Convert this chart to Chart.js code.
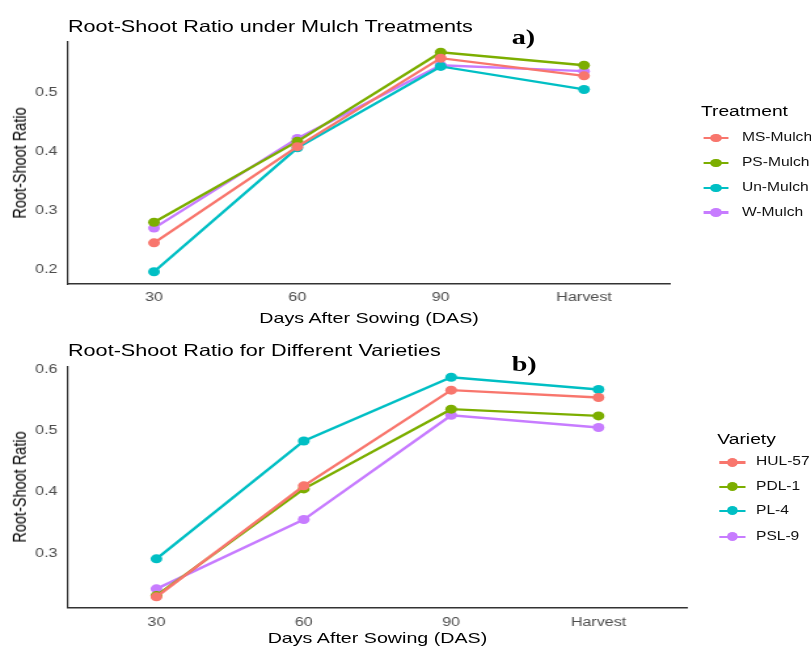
<!DOCTYPE html>
<html>
<head>
<meta charset="utf-8">
<script src="https://cdn.jsdelivr.net/npm/chart.js@4.4.0/dist/chart.umd.min.js"></script>
<style>
  html, body { margin: 0; padding: 0; background: #fff; }
  body { width: 811px; height: 648px; overflow: hidden; position: relative; font-family: "Liberation Sans", Arial, sans-serif; }
  #wrap { position: absolute; left: 0; top: 0; width: 619px; height: 648px; transform: scaleX(1.3102); transform-origin: 0 0; }
  #wrap canvas { position: absolute; left: 0; }
  .txt { position: absolute; line-height: 1; white-space: nowrap; }
  .title { font-size: 16.5px; color: #000; }
  .tag { font-family: "Liberation Serif", "Times New Roman", serif; font-weight: bold; font-size: 21.5px; color: #000; }
  .xtitle { font-size: 15px; color: #000; text-align: center; }
  .ytitle { font-size: 14.5px; color: #000; transform: translate(-50%, -50%) rotate(-90deg); }
  .ltitle { font-size: 14.7px; color: #000; }
  .lrow { position: absolute; height: 0; }
  .lrow .ln { position: absolute; height: 2.4px; top: -1.2px; }
  .lrow .dot { position: absolute; width: 8.6px; height: 8.6px; top: -4.3px; border-radius: 50%; }
  .lrow .lb { position: absolute; font-size: 11.9px; line-height: 1; top: -6px; color: #111; white-space: nowrap; }
</style>
</head>
<body>
<div id="wrap">
  <div class="txt title" style="left:51.9px; top:18px;">Root-Shoot Ratio under Mulch Treatments</div>
  <div class="txt tag" style="left:390.5px; top:27.4px;">a)</div>
  <canvas id="chartA" width="619" height="330" style="top:0;"></canvas>
  <div class="txt xtitle" style="left:51.9px; width:459.6px; top:309.6px;">Days After Sowing (DAS)</div>
  <div class="txt ytitle" style="left:15.3px; top:163px;">Root-Shoot Ratio</div>
  <div id="legendA"></div>

  <div class="txt title" style="left:51.9px; top:342px;">Root-Shoot Ratio for Different Varieties</div>
  <div class="txt tag" style="left:390.5px; top:353.9px;">b)</div>
  <canvas id="chartB" width="619" height="318" style="top:330px;"></canvas>
  <div class="txt xtitle" style="left:51.9px; width:472.4px; top:629.7px;">Days After Sowing (DAS)</div>
  <div class="txt ytitle" style="left:15.3px; top:487.2px;">Root-Shoot Ratio</div>
  <div id="legendB"></div>
</div>

<script>
// x categories
const days = ['30', '60', '90', 'Harvest'];

// panel a) mulch treatments
const treatments = ['MS-Mulch', 'PS-Mulch', 'Un-Mulch', 'W-Mulch'];
const msMulch = [0.246, 0.409, 0.559, 0.529];
const psMulch = [0.281, 0.418, 0.569, 0.547];
const unMulch = [0.197, 0.407, 0.545, 0.506];
const wMulch  = [0.271, 0.423, 0.547, 0.537];
const ticksA = [0.2, 0.3, 0.4, 0.5];

// panel b) varieties
const varieties = ['HUL-57', 'PDL-1', 'PL-4', 'PSL-9'];
const hul57 = [0.229, 0.410, 0.566, 0.554];
const pdl1  = [0.231, 0.405, 0.535, 0.524];
const pl4   = [0.291, 0.483, 0.587, 0.567];
const psl9  = [0.242, 0.355, 0.525, 0.505];
const ticksB = [0.3, 0.4, 0.5, 0.6];

const colours = ['#F8766D', '#7CAE00', '#00BFC4', '#C77CFF'];

function makeDatasets(names, series) {
  return names.map((name, k) => ({
    label: name,
    data: series[k].map((v, i) => ({ x: i + 1, y: v })),
    borderColor: colours[k],
    backgroundColor: colours[k],
    borderWidth: 2.4,
    pointRadius: 4.5,
    pointBorderWidth: 0,
    tension: 0
  }));
}

function makeChart(canvas, datasets, yTicks, yMin, yMax, pad, xHeight, xPad) {
  return new Chart(canvas, {
    type: 'line',
    data: { datasets: datasets },
    options: {
      responsive: false,
      animation: false,
      layout: { padding: pad },
      plugins: { legend: { display: false }, title: { display: false }, tooltip: { enabled: false } },
      scales: {
        x: {
          type: 'linear',
          min: 0.4,
          max: 4.6,
          afterBuildTicks: (s) => { s.ticks = days.map((d, i) => ({ value: i + 1 })); },
          afterFit: (s) => { s.height = xHeight; },
          grid: { display: false, drawTicks: false },
          border: { display: true, color: '#333', width: 1.6 },
          ticks: {
            padding: xPad,
            color: '#4d4d4d',
            font: { family: 'Liberation Sans', size: 12.3 },
            callback: (v) => days[Math.round(v) - 1],
            maxRotation: 0
          }
        },
        y: {
          min: yMin,
          max: yMax,
          afterBuildTicks: (s) => { s.ticks = yTicks.map(v => ({ value: v })); },
          afterFit: (s) => { s.width = 51.9; },
          grid: { display: false, drawTicks: false },
          border: { display: true, color: '#333', width: 1.2 },
          ticks: {
            padding: 8,
            color: '#4d4d4d',
            font: { family: 'Liberation Sans', size: 12.3 },
            callback: (v) => v.toFixed(1)
          }
        }
      }
    }
  });
}

function makeLegend(el, title, names, left, titleTop, rowTops) {
  let html = '<div class="txt ltitle" style="left:' + left.title + 'px; top:' + titleTop + 'px;">' + title + '</div>';
  names.forEach((n, k) => {
    html += '<div class="lrow" style="left:' + left.line + 'px; top:' + rowTops[k] + 'px;">' +
      '<div class="ln" style="left:0; width:19.8px; background:' + colours[k] + ';"></div>' +
      '<div class="dot" style="left:5.6px; background:' + colours[k] + ';"></div>' +
      '<div class="lb" style="left:' + (left.text - left.line) + 'px;">' + n + '</div></div>';
  });
  el.innerHTML = html;
}

makeChart(document.getElementById('chartA'),
  makeDatasets(treatments, [msMulch, psMulch, unMulch, wMulch]),
  ticksA, 0.1763, 0.5864,
  { top: 42, right: 107.6, bottom: 0, left: 0 }, 46, 6);

makeChart(document.getElementById('chartB'),
  makeDatasets(varieties, [hul57, pdl1, pl4, psl9]),
  ticksB, 0.2113, 0.6042,
  { top: 36.7, right: 94.7, bottom: 0, left: 0 }, 40.3, 7.6);

makeLegend(document.getElementById('legendA'), 'Treatment', treatments,
  { title: 535.0, line: 536.6, text: 566.3 }, 103.6, [138, 163, 188, 212.5]);
makeLegend(document.getElementById('legendB'), 'Variety', varieties,
  { title: 547.5, line: 549.0, text: 577.0 }, 432, [462.3, 486.7, 510.7, 536.7]);
</script>
</body>
</html>
